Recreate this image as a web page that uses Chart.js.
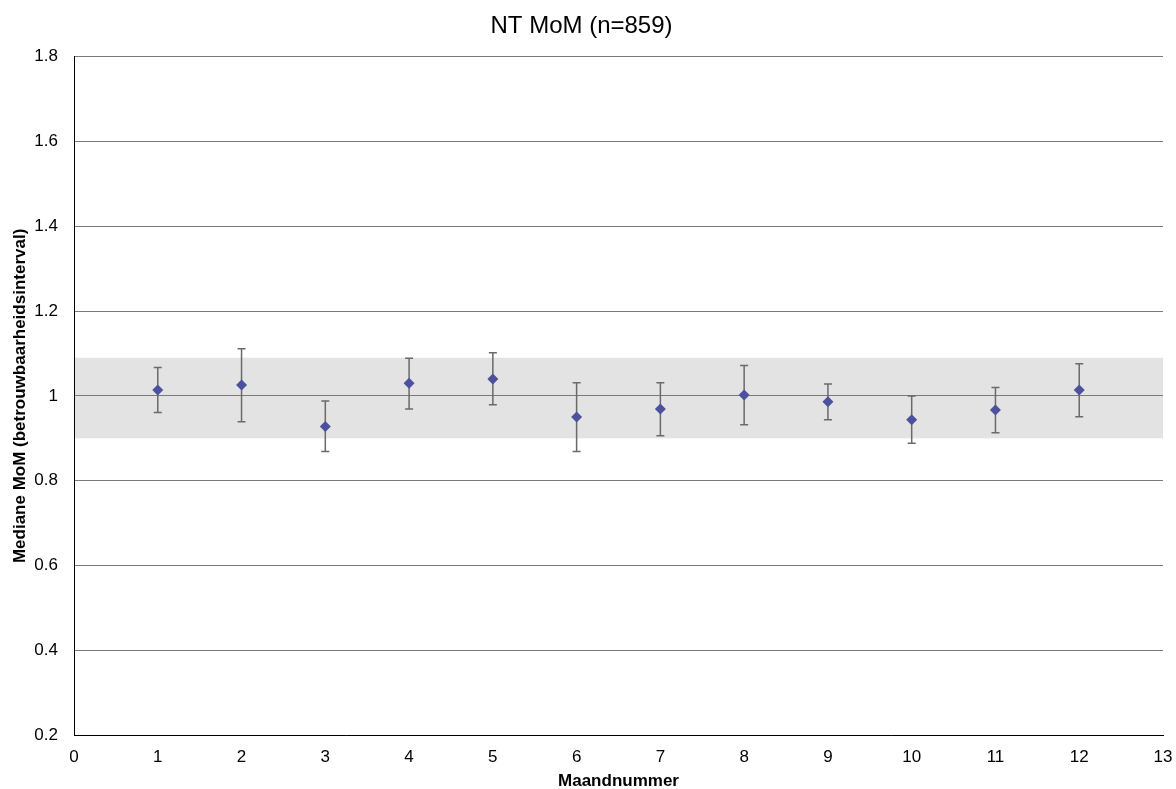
<!DOCTYPE html>
<html>
<head>
<meta charset="utf-8">
<script src="https://cdn.jsdelivr.net/npm/chart.js@4.4.1/dist/chart.umd.min.js"></script>
<style>
  html, body { margin: 0; padding: 0; background: #fff; }
  #wrap { width: 1176px; height: 789px; }
</style>
</head>
<body>
<div id="wrap"><canvas id="chart" width="1176" height="789"></canvas></div>
<script>
// maandnummers en mediane MoM met betrouwbaarheidsinterval
const months = [1, 2, 3, 4, 5, 6, 7, 8, 9, 10, 11, 12];
const medians = [1.014, 1.026, 0.928, 1.030, 1.040, 0.950, 0.969, 1.002, 0.986, 0.944, 0.967, 1.014];
const upper = [1.067, 1.111, 0.988, 1.089, 1.102, 1.031, 1.031, 1.072, 1.028, 1.000, 1.020, 1.076];
const lower = [0.961, 0.939, 0.869, 0.969, 0.979, 0.869, 0.906, 0.932, 0.944, 0.888, 0.913, 0.951];

// grijze band rond 1
const bandLow = 0.9;
const bandHigh = 1.09;

const font = "'Liberation Sans', Arial, sans-serif";

// band achter de rasterlijnen tekenen
const bandPlugin = {
  id: "band",
  beforeDraw(chart) {
    const { ctx, chartArea, scales } = chart;
    const yTop = scales.y.getPixelForValue(bandHigh);
    const yBot = scales.y.getPixelForValue(bandLow);
    ctx.save();
    ctx.fillStyle = "#e3e3e3";
    ctx.fillRect(chartArea.left, yTop, chartArea.right - chartArea.left, yBot - yTop);
    ctx.restore();
  },
};

// foutbalken
const errorBars = {
  id: "errorBars",
  beforeDatasetsDraw(chart) {
    const { ctx, scales } = chart;
    ctx.save();
    ctx.strokeStyle = "#6a6a6a";
    ctx.lineWidth = 1.5;
    months.forEach((m, i) => {
      const x = scales.x.getPixelForValue(m);
      const y1 = scales.y.getPixelForValue(upper[i]);
      const y2 = scales.y.getPixelForValue(lower[i]);
      ctx.beginPath();
      ctx.moveTo(x, y1);
      ctx.lineTo(x, y2);
      ctx.moveTo(x - 4, y1);
      ctx.lineTo(x + 4, y1);
      ctx.moveTo(x - 4, y2);
      ctx.lineTo(x + 4, y2);
      ctx.stroke();
    });
    ctx.restore();
  },
};

new Chart(document.getElementById("chart"), {
  type: "scatter",
  data: {
    datasets: [
      {
        label: "Mediane MoM",
        data: months.map((m, i) => ({ x: m, y: medians[i] })),
        pointStyle: "rectRot",
        pointRadius: 5.5,
        pointHoverRadius: 5.5,
        backgroundColor: "#4c519e",
        borderColor: "#4c519e",
        borderWidth: 0,
      },
    ],
  },
  options: {
    responsive: false,
    animation: false,
    layout: { padding: { left: 0, right: 13, top: 0, bottom: 0 } },
    plugins: {
      legend: { display: false },
      tooltip: { enabled: false },
      title: {
        display: true,
        text: "NT MoM (n=859)",
        color: "#000",
        font: { family: font, size: 24, weight: "normal" },
        padding: { top: 12, bottom: 16 },
      },
    },
    scales: {
      x: {
        type: "linear",
        min: 0,
        max: 13,
        afterFit: (s) => { s.height = 54; s.paddingRight = 0; },
        ticks: {
          stepSize: 1,
          color: "#000",
          padding: 12,
          font: { family: font, size: 17 },
          maxRotation: 0,
        },
        grid: { display: false, drawTicks: false },
        border: { display: true, color: "#000", width: 1 },
        title: {
          display: true,
          text: "Maandnummer",
          color: "#000",
          font: { family: font, size: 17, weight: "bold" },
          padding: { top: 0, bottom: -3 },
        },
      },
      y: {
        min: 0.2,
        max: 1.8,
        afterFit: (s) => { s.width = 74; },
        ticks: {
          stepSize: 0.2,
          color: "#000",
          padding: 16,
          font: { family: font, size: 17 },
          callback: (v) => String(Math.round(v * 10) / 10),
        },
        grid: { color: "#7a7a7a", lineWidth: 1, drawTicks: false },
        border: { display: true, color: "#000", width: 1 },
        title: {
          display: true,
          text: "Mediane MoM (betrouwbaarheidsinterval)",
          color: "#000",
          font: { family: font, size: 17, weight: "bold" },
          padding: { top: 10, bottom: 0 },
        },
      },
    },
  },
  plugins: [bandPlugin, errorBars],
});
</script>
</body>
</html>
